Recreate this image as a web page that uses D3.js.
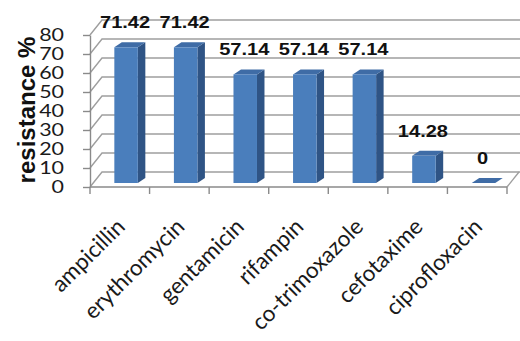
<!DOCTYPE html>
<html><head><meta charset="utf-8">
<script src="https://cdn.jsdelivr.net/npm/d3@7"></script>
<style>body{margin:0;background:#fff}svg{display:block}</style>
</head><body><svg id="c" width="520" height="341"></svg>
<script>
const categories = ["ampicillin","erythromycin","gentamicin","rifampin","co-trimoxazole","cefotaxime","ciprofloxacin"];
const resistance = [71.42,71.42,57.14,57.14,57.14,14.28,0];
const dataLabels = ["71.42","71.42","57.14","57.14","57.14","14.28","0"];
const yTicks = [0,10,20,30,40,50,60,70,80];
const yTitle = "resistance %";

const W = 520, H = 341;
const svg = d3.select("#c");
svg.append("rect").attr("width",W).attr("height",H).attr("fill","#fff");

const x = d3.scaleBand().domain(categories).range([90,507]);
const y = d3.scaleLinear().domain([0,80]).range([187,35]);
const depth = {dx:12, dy:-15};
const barOff = {dx:6.3, dy:-4};
const barDepth = {dx:7.5, dy:-5};
const barW = 23.5;
const x0 = x.range()[0], x1 = x.range()[1];

const gridColor = "#9e9e9e", axisColor = "#8a8a8a";

// back wall + side wall gridlines
svg.append("g").selectAll("path").data(yTicks).join("path")
  .attr("d", t => `M${x0},${y(t)}L${x0+depth.dx},${y(t)+depth.dy}L${x1+depth.dx+2},${y(t)+depth.dy}`)
  .attr("fill","none").attr("stroke",gridColor).attr("stroke-width",1.4);

// floor right edge
svg.append("path").attr("d",`M${x1},${y(0)}L${x1+depth.dx},${y(0)+depth.dy}`)
  .attr("stroke",gridColor).attr("stroke-width",1.4).attr("fill","none");

// y axis
const yAxis = svg.append("g").attr("transform",`translate(${x0},0)`)
  .call(d3.axisLeft(y).tickValues(yTicks).tickSize(7).tickSizeOuter(0).tickFormat(""));
yAxis.selectAll("path,line").attr("stroke",axisColor).attr("stroke-width",1.4);

// y tick labels
svg.append("g").selectAll("text").data(yTicks).join("text")
  .attr("transform", t => `translate(64,${y(t)}) scale(1.3,1.05)`)
  .attr("dy","0.36em").attr("text-anchor","end")
  .attr("font-family","Lato, Liberation Sans, sans-serif").attr("font-size",16.5)
  .attr("fill","#1a1a1a").text(t => t);

// y title
svg.append("text").attr("transform","translate(35,110) rotate(-90)")
  .attr("text-anchor","middle").attr("font-family","Liberation Sans, Arial, sans-serif")
  .attr("font-weight","bold").attr("font-size",24).attr("fill","#111").text(yTitle);

// x axis line + ticks at band boundaries
const bounds = categories.map(c => x(c)).concat([x1]);
svg.append("line").attr("x1",x0).attr("x2",x1).attr("y1",y(0)).attr("y2",y(0))
  .attr("stroke",axisColor).attr("stroke-width",1.4);
svg.append("g").selectAll("line").data(bounds).join("line")
  .attr("x1",d=>d).attr("x2",d=>d).attr("y1",y(0)).attr("y2",y(0)+7)
  .attr("stroke",axisColor).attr("stroke-width",1.4);

// bars
const bars = categories.map((c,i) => {
  const bx = x(c) + x.bandwidth()/2 + barOff.dx - barW/2;
  const yb = y(0) + barOff.dy;
  const yt = y(resistance[i]) + barOff.dy;
  return {c, v: resistance[i], label: dataLabels[i], bx, yb, yt};
});
const gb = svg.append("g");
bars.forEach(b => {
  const g = gb.append("g");
  g.append("path").attr("d",`M${b.bx+barW},${b.yt}L${b.bx+barW+barDepth.dx},${b.yt+barDepth.dy}L${b.bx+barW+barDepth.dx},${b.yb+barDepth.dy}L${b.bx+barW},${b.yb}Z`)
    .attr("fill","#2f5485");
  g.append("path").attr("d",`M${b.bx},${b.yt}L${b.bx+barDepth.dx},${b.yt+barDepth.dy}L${b.bx+barW+barDepth.dx},${b.yt+barDepth.dy}L${b.bx+barW},${b.yt}Z`)
    .attr("fill","#3f6ca6");
  if (b.yb - b.yt > 0)
    g.append("rect").attr("x",b.bx).attr("y",b.yt).attr("width",barW).attr("height",b.yb-b.yt)
      .attr("fill","#4a7ebc");
});

// data labels
svg.append("g").selectAll("text").data(bars).join("text")
  .attr("transform", b => `translate(${b.bx+barW/2-1},${b.yt-19}) scale(1.18,1)`)
  .attr("text-anchor","middle").attr("font-family","Liberation Sans, Arial, sans-serif")
  .attr("font-weight","bold").attr("font-size",17).attr("fill","#111").text(b => b.label);

// category labels
svg.append("g").selectAll("text").data(categories).join("text")
  .attr("transform", c => `translate(${x(c)+x.bandwidth()/2+6.5},228) rotate(-45)`)
  .attr("text-anchor","end").attr("font-family","Lato, Liberation Sans, sans-serif")
  .attr("font-size",22.5).attr("fill","#1a1a1a").text(c => c);
</script></body></html>
